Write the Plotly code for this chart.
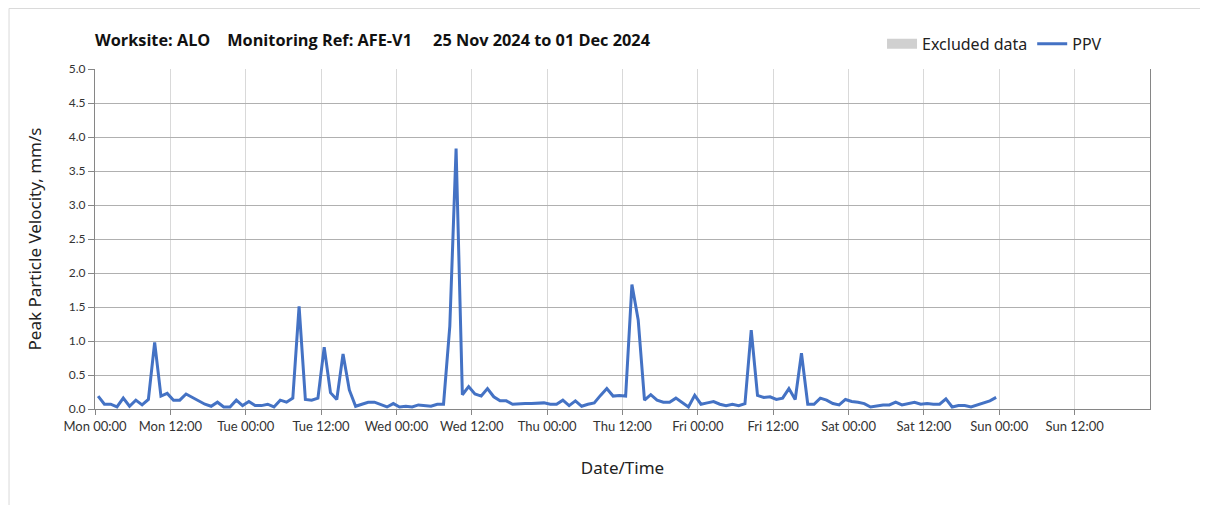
import pandas as pd
import plotly.graph_objects as go

# hourly PPV readings, Mon 25 Nov 2024 00:30 onwards (mm/s)
ppv = [
    0.19, 0.07, 0.07, 0.03, 0.16, 0.04, 0.13, 0.06, 0.14, 0.98, 0.19, 0.23,
    0.13, 0.13, 0.22, 0.17, 0.11, 0.07, 0.04, 0.10, 0.03, 0.03, 0.13, 0.05,
    0.11, 0.05, 0.05, 0.07, 0.03, 0.13, 0.10, 0.16, 1.51, 0.14, 0.13, 0.16,
    0.91, 0.24, 0.14, 0.81, 0.28, 0.04, 0.07, 0.10, 0.10, 0.07, 0.03, 0.08,
    0.03, 0.04, 0.03, 0.06, 0.05, 0.04, 0.07, 0.07, 1.22, 3.83, 0.21, 0.33,
    0.22, 0.19, 0.30, 0.18, 0.12, 0.12, 0.07, 0.08, 0.08, 0.08, 0.09, 0.09,
    0.07, 0.07, 0.13, 0.05, 0.12, 0.04, 0.07, 0.09, 0.20, 0.30, 0.19, 0.20,
    0.19, 1.83, 1.31, 0.13, 0.21, 0.13, 0.10, 0.10, 0.16, 0.09, 0.03, 0.20,
    0.07, 0.09, 0.11, 0.07, 0.05, 0.07, 0.05, 0.08, 1.16, 0.20, 0.17, 0.18,
    0.14, 0.16, 0.30, 0.14, 0.82, 0.07, 0.07, 0.16, 0.13, 0.08, 0.06, 0.14,
    0.11, 0.10, 0.08, 0.03, 0.05, 0.06, 0.06, 0.10, 0.06, 0.08, 0.10, 0.07,
    0.08, 0.07, 0.07, 0.15, 0.03, 0.05, 0.05, 0.03, 0.06, 0.10, 0.12, 0.17,
]
times = pd.date_range("2024-11-25 00:30", periods=len(ppv), freq="h")

x_ticks = pd.date_range("2024-11-25 00:00", "2024-12-01 12:00", freq="12h")
y_ticks = [0.0, 0.5, 1.0, 1.5, 2.0, 2.5, 3.0, 3.5, 4.0, 4.5, 5.0]

nb = "&nbsp;"
title_text = ("Worksite: ALO" + nb * 4 + "Monitoring Ref: AFE-V1" + nb * 5
              + "25 Nov 2024 to 01 Dec 2024")

fig = go.Figure()

# legend-only entry for excluded periods (none in this week)
fig.add_trace(go.Scatter(
    x=[None], y=[None], name="Excluded data", mode="lines",
    line=dict(color="#d0d0d0", width=10),
))
fig.add_trace(go.Scatter(
    x=times, y=ppv, name="PPV", mode="lines",
    line=dict(color="#4472c4", width=3),
))

fig.update_layout(
    width=1208, height=505,
    margin=dict(l=87, r=66, t=61, b=104),
    paper_bgcolor="white", plot_bgcolor="white",
    font=dict(family="Lato, sans-serif", color="#222"),
    title=dict(text="<b>" + title_text + "</b>", x=87 / 1208, xanchor="left",
               y=1 - 32 / 505, yanchor="middle",
               font=dict(family="Open Sans", size=16.3, color="#111")),
    legend=dict(orientation="h", x=0.746, xanchor="left", y=1.074, yanchor="middle",
                font=dict(family="Noto Sans", size=16, color="#222"),
                bgcolor="rgba(0,0,0,0)", itemwidth=30, tracegroupgap=0),
    showlegend=True,
    shapes=[
        dict(type="line", xref="paper", yref="paper", x0=-0.0815, x1=-0.0815, y0=-0.32, y1=1.178,
             line=dict(color="#d9d9d9", width=1)),
        dict(type="line", xref="paper", yref="paper", x0=-0.0815, x1=1.07, y0=1.178, y1=1.178,
             line=dict(color="#d9d9d9", width=1)),
    ],
)

fig.update_xaxes(
    type="date",
    range=["2024-11-25 00:00", "2024-12-02 00:00"],
    tickvals=x_ticks, tickformat="%a %H:%M",
    tickfont=dict(family="Lato", size=13, color="#333"),
    showgrid=True, gridcolor="#d9d9d9", gridwidth=1,
    showline=True, linecolor="#868686", linewidth=1,
    ticks="outside", ticklen=5, tickcolor="#868686",
    title=dict(text="Date/Time", font=dict(family="Noto Sans", size=17, color="#222"), standoff=29),
    zeroline=False, automargin=False,
)
fig.update_yaxes(
    range=[0, 5], tickvals=y_ticks, tickformat=".1f",
    tickfont=dict(family="Lato", size=12, color="#333"),
    showgrid=True, gridcolor="#b0b0b0", gridwidth=1,
    showline=True, linecolor="#868686", linewidth=1, mirror=True,
    ticks="outside", ticklen=6, tickcolor="#868686",
    title=dict(text="Peak Particle Velocity, mm/s", font=dict(family="Noto Sans", size=17, color="#222"),
               standoff=22),
    zeroline=False, automargin=False,
)

fig.write_html("out.html")
